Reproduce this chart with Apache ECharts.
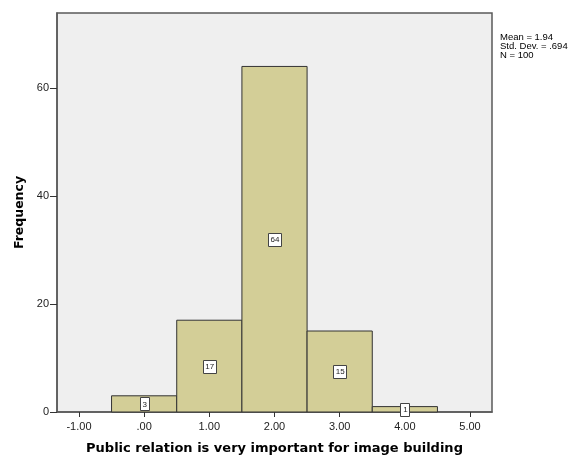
<!DOCTYPE html>
<html>
<head>
<meta charset="utf-8">
<script src="https://cdn.jsdelivr.net/npm/echarts@6/dist/echarts.min.js"></script>
<style>html,body{margin:0;padding:0;background:#fff}#c{width:580px;height:456px}</style>
</head>
<body>
<div id="c"></div>
<script>
var binCenters = [0, 1, 2, 3, 4];
var counts = [3, 17, 64, 15, 1];
var xTicks = [-1, 0, 1, 2, 3, 4, 5];
var yTicks = [0, 20, 40, 60];
var statsLines = ['Mean = 1.94', 'Std. Dev. = .694', 'N = 100'];
var xTitle = 'Public relation is very important for image building';
var yTitle = 'Frequency';

function fmtX(v) {
  var s = Math.abs(v).toFixed(2);
  if (s.charAt(0) === '0') s = s.substring(1);
  return (v < 0 ? '-' : '') + s;
}

var chart = echarts.init(document.getElementById('c'), null, {renderer: 'canvas'});
var data = binCenters.map(function (c, i) { return [c, counts[i]]; });

chart.setOption({
  animation: false,
  backgroundColor: '#ffffff',
  grid: {
    left: 57, right: 88, top: 13, bottom: 44,
    outerBoundsMode: 'none', containLabel: false,
    show: true, backgroundColor: '#efefef', borderColor: '#5a5a5a', borderWidth: 1.5
  },
  xAxis: {
    type: 'value', min: -1.337, max: 5.337,
    name: xTitle, nameLocation: 'middle', nameGap: 30,
    nameTextStyle: {fontFamily: 'DejaVu Sans', fontWeight: 'bold', fontSize: 13, color: '#000'},
    splitLine: {show: false},
    axisLine: {show: true, onZero: false, lineStyle: {color: '#5a5a5a', width: 1.5}},
    axisTick: {show: true, length: 5, customValues: xTicks, lineStyle: {color: '#333'}},
    axisLabel: {customValues: xTicks, formatter: fmtX, fontFamily: 'Liberation Sans, Arial', fontSize: 11, color: '#222', margin: 9}
  },
  yAxis: {
    type: 'value', min: 0, max: 73.9,
    name: yTitle, nameLocation: 'middle', nameGap: 30, nameRotate: 90,
    nameTextStyle: {fontFamily: 'DejaVu Sans', fontWeight: 'bold', fontSize: 12.5, color: '#000'},
    splitLine: {show: false},
    axisLine: {show: true, onZero: false, lineStyle: {color: '#5a5a5a', width: 1.5}},
    axisTick: {show: true, length: 7, customValues: yTicks, lineStyle: {color: '#333'}},
    axisLabel: {customValues: yTicks, fontFamily: 'Liberation Sans, Arial', fontSize: 11, color: '#222', margin: 8}
  },
  graphic: [{
    type: 'text', left: 500, top: 32,
    style: {text: statsLines.join('\n'), fontFamily: 'Liberation Sans, Arial', fontSize: 9.5, lineHeight: 9, fill: '#000'}
  }],
  series: [{
    type: 'custom',
    data: data,
    renderItem: function (params, api) {
      var c = api.value(0), v = api.value(1);
      var p0 = api.coord([c - 0.5, 0]);
      var p1 = api.coord([c + 0.5, v]);
      var mid = api.coord([c, v / 2]);
      var txt = String(v);
      var bw = txt.length > 1 ? 13 : 9;
      var bh = 13;
      return {
        type: 'group',
        children: [
          {type: 'rect', shape: {x: p0[0], y: p1[1], width: p1[0] - p0[0], height: p0[1] - p1[1]},
           style: {fill: '#d3ce97', stroke: '#333', lineWidth: 1}},
          {type: 'rect', shape: {x: Math.round(mid[0] - bw / 2) + 0.5, y: Math.round(mid[1] - bh / 2) + 0.5, width: bw, height: bh},
           style: {fill: '#fff', stroke: '#444', lineWidth: 1}},
          {type: 'text', x: mid[0] + 0.5, y: mid[1] + 0.5,
           style: {text: txt, fontFamily: 'Liberation Sans, Arial', fontSize: 8, fill: '#222', align: 'center', verticalAlign: 'middle'}}
        ]
      };
    }
  }]
});
</script>
</body>
</html>
